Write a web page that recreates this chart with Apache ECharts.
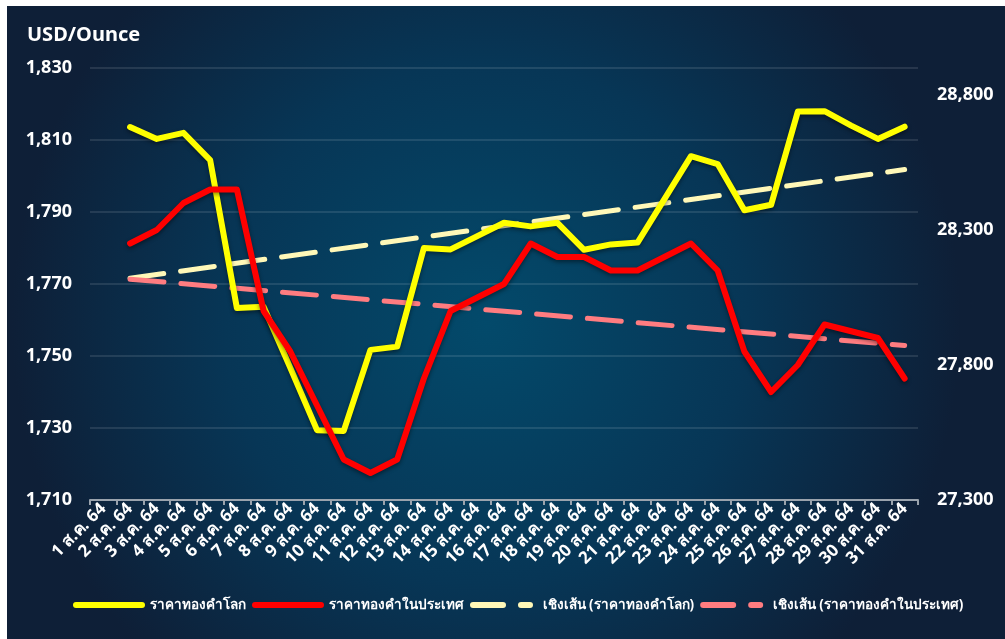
<!DOCTYPE html>
<html>
<head>
<meta charset="utf-8">
<script src="https://cdn.jsdelivr.net/npm/echarts@6/dist/echarts.min.js"></script>
<style>
  html, body { margin: 0; padding: 0; background: #fff; }
  #chart { position: absolute; left: 7px; top: 6px; width: 998px; height: 633px; }
</style>
</head>
<body>
<div id="chart"></div>
<script>
// days of Aug 2021 (Thai calendar 64)
const dates = [];
for (let d = 1; d <= 31; d++) dates.push(d + ' ส.ค. 64');

// world gold price, USD/Ounce (left axis); day 1 has no value
const worldPrice = [null, 1813.6, 1810.3, 1812, 1804.4, 1763.3, 1763.7, 1746.7, 1729.4, 1729.2,
  1751.7, 1752.6, 1780, 1779.6, 1783.3, 1787, 1786, 1787, 1779.5, 1781,
  1781.5, 1793.5, 1805.5, 1803.3, 1790.5, 1792, 1817.9, 1818, 1814, 1810.3, 1813.7];

// domestic gold price, Baht (right axis)
const domesticPrice = [null, 28250, 28300, 28400, 28450, 28450, 28000, 27850, 27650, 27450,
  27400, 27450, 27750, 28000, 28050, 28100, 28250, 28200, 28200, 28150,
  28150, 28200, 28250, 28150, 27850, 27700, 27800, 27950, 27925, 27900, 27750];

// trend line end points (first and last day with data)
const worldTrend = [1771.6, 1801.8];
const domesticTrend = [28118, 27872];

const seriesNames = ['ราคาทองคำโลก', 'ราคาทองคำในประเทศ', 'เชิงเส้น (ราคาทองคำโลก)', 'เชิงเส้น (ราคาทองคำในประเทศ)'];
const colors = ['#ffff00', '#ff0000', '#fff8b8', '#ff7c80'];

const trendData = (ends) => {
  const arr = dates.map(() => null);
  arr[1] = ends[0];
  arr[dates.length - 1] = ends[1];
  return arr;
};

const font = 'Noto Sans, sans-serif';
const shadow = { shadowColor: 'rgba(0,0,0,0.45)', shadowBlur: 4, shadowOffsetY: 2 };
const solidIcon = 'path://M3,0h66a3,3 0 0 1 0,6h-66a3,3 0 0 1 0,-6z';
const dashIcon = 'path://M3,0h30a3,3 0 0 1 0,6h-30a3,3 0 0 1 0,-6zM51,0h9a3,3 0 0 1 0,6h-9a3,3 0 0 1 0,-6z';

const chart = echarts.init(document.getElementById('chart'));
const option = {
  backgroundColor: {
    type: 'radial', x: 0.48, y: 0.5, r: 0.75,
    colorStops: [
      { offset: 0, color: '#034a6b' },
      { offset: 0.55, color: '#073656' },
      { offset: 1, color: '#0e1f37' }
    ]
  },
  textStyle: { fontFamily: font },
  title: {
    text: 'USD/Ounce',
    left: 15, top: 14,
    textStyle: { color: '#fff', fontSize: 20, fontWeight: 'bold', fontFamily: font }
  },
  grid: { left: 83, right: 87, top: 62, bottom: 139 },
  legend: {
    bottom: 22,
    left: 61,
    itemWidth: 72,
    itemHeight: 6,
    itemGap: 6,
    textStyle: { color: '#fff', fontSize: 13.5, fontWeight: 'bold', fontFamily: font },
    data: seriesNames.map((name, i) => ({
      name: name,
      icon: i < 2 ? solidIcon : dashIcon,
      itemStyle: { color: colors[i] }
    }))
  },
  xAxis: {
    type: 'category',
    data: dates,
    axisLine: { lineStyle: { color: '#9aa3ad', width: 2 } },
    axisTick: { show: true, length: 5, lineStyle: { color: '#9aa3ad', width: 2 } },
    axisLabel: {
      color: '#fff', fontSize: 17, fontWeight: 'bold', rotate: 45, interval: 0, margin: 6,
      fontFamily: font
    }
  },
  yAxis: [
    {
      type: 'value', min: 1710, max: 1830, interval: 20,
      axisLine: { show: false }, axisTick: { show: false },
      axisLabel: { color: '#fff', fontSize: 18, fontWeight: 'bold', margin: 18, fontFamily: font },
      splitLine: { lineStyle: { color: 'rgba(255,255,255,0.14)', width: 1.5 } }
    },
    {
      type: 'value', min: 27300, max: 28900, interval: 500,
      axisLine: { show: false }, axisTick: { show: false },
      axisLabel: { color: '#fff', fontSize: 18, fontWeight: 'bold', margin: 19, showMaxLabel: false, fontFamily: font },
      splitLine: { show: false }
    }
  ],
  series: [
    {
      name: seriesNames[0], type: 'line', yAxisIndex: 0, data: worldPrice,
      symbol: 'none', color: colors[0],
      lineStyle: Object.assign({ width: 6, color: colors[0], join: 'round', cap: 'round' }, shadow),
      z: 4
    },
    {
      name: seriesNames[1], type: 'line', yAxisIndex: 1, data: domesticPrice,
      symbol: 'none', color: colors[1],
      lineStyle: Object.assign({ width: 6, color: colors[1], join: 'round', cap: 'round' }, shadow),
      z: 5
    },
    {
      name: seriesNames[2], type: 'line', yAxisIndex: 0, data: trendData(worldTrend),
      connectNulls: true, symbol: 'none', color: colors[2],
      lineStyle: { width: 5, color: colors[2], type: [34, 17], cap: 'round' },
      z: 3
    },
    {
      name: seriesNames[3], type: 'line', yAxisIndex: 1, data: trendData(domesticTrend),
      connectNulls: true, symbol: 'none', color: colors[3],
      lineStyle: { width: 5, color: colors[3], type: [34, 17], cap: 'round' },
      z: 3
    }
  ]
};
chart.setOption(option);
</script>
</body>
</html>
